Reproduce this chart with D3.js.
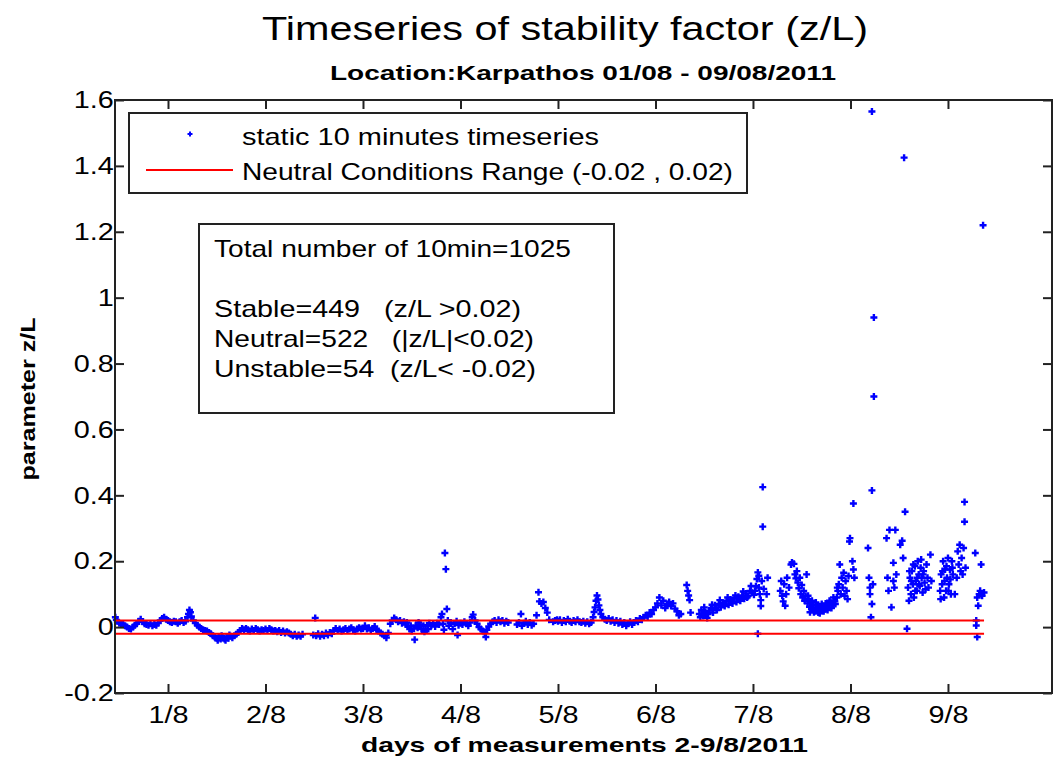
<!DOCTYPE html>
<html>
<head>
<meta charset="utf-8">
<script src="https://cdn.jsdelivr.net/npm/d3@7"></script>
<style>
  body { margin: 0; background: #fff; }
  svg text { font-family: "Liberation Sans", Arial, sans-serif; fill: #000; }
</style>
</head>
<body>
<svg width="1054" height="760"></svg>
<script>
// [day, z/L] readings, day 1 = 1/8
var day0 = [[0.46,0.030],[0.47,0.022],[0.48,0.018],[0.50,0.012],[0.52,0.010],[0.54,0.008],[0.56,0.004],[0.58,0.000],[0.60,-0.004],[0.62,-0.006],[0.64,0.000],[0.66,0.006],[0.68,0.010],[0.70,0.018],[0.72,0.024],[0.74,0.016],[0.76,0.010],[0.78,0.008],[0.80,0.006],[0.82,0.010],[0.84,0.004],[0.86,0.008],[0.88,0.006],[0.90,0.012],[0.92,0.020],[0.94,0.026],[0.96,0.030],[0.98,0.024]];
var day1 = [[1.00,0.020],[1.02,0.016],[1.04,0.014],[1.06,0.018],[1.08,0.016],[1.10,0.012],[1.12,0.016],[1.14,0.020],[1.16,0.014],[1.18,0.018],[1.20,0.030],[1.21,0.040],[1.22,0.052],[1.23,0.045],[1.24,0.032],[1.26,0.020],[1.28,0.012],[1.30,0.006],[1.32,0.000],[1.34,-0.004],[1.36,-0.008],[1.38,-0.010],[1.40,-0.012],[1.42,-0.016],[1.44,-0.020],[1.46,-0.026],[1.48,-0.030],[1.50,-0.034],[1.51,-0.040],[1.52,-0.030],[1.54,-0.036],[1.55,-0.026],[1.56,-0.032],[1.58,-0.036],[1.59,-0.040],[1.60,-0.030],[1.62,-0.034],[1.63,-0.024],[1.64,-0.028],[1.66,-0.032],[1.68,-0.026],[1.70,-0.022],[1.72,-0.016],[1.74,-0.010],[1.76,-0.004],[1.78,-0.008],[1.80,-0.004],[1.82,-0.008],[1.84,-0.012],[1.86,-0.006],[1.88,-0.010],[1.90,-0.004],[1.92,-0.008],[1.94,-0.012],[1.96,-0.008],[1.98,-0.010]];
var day2 = [[2.00,-0.006],[2.02,-0.010],[2.04,-0.004],[2.06,-0.008],[2.08,-0.012],[2.10,-0.010],[2.12,-0.014],[2.14,-0.010],[2.16,-0.016],[2.18,-0.012],[2.20,-0.018],[2.22,-0.014],[2.24,-0.018],[2.26,-0.022],[2.28,-0.026],[2.30,-0.022],[2.32,-0.028],[2.34,-0.024],[2.36,-0.028],[2.38,-0.022],[2.49,-0.024],[2.51,0.028],[2.52,-0.026],[2.54,-0.020],[2.56,-0.028],[2.58,-0.022],[2.60,-0.026],[2.62,-0.018],[2.64,-0.024],[2.66,-0.016],[2.68,-0.020],[2.70,-0.010],[2.72,-0.004],[2.74,-0.010],[2.76,-0.006],[2.78,-0.012],[2.80,-0.008],[2.82,-0.004],[2.84,-0.010],[2.86,-0.006],[2.88,-0.002],[2.90,-0.008],[2.92,-0.012],[2.94,-0.006],[2.96,-0.002],[2.98,-0.006]];
var day3 = [[3.00,-0.004],[3.02,0.004],[3.04,-0.006],[3.06,-0.002],[3.08,-0.010],[3.10,-0.004],[3.12,0.002],[3.14,-0.008],[3.16,-0.012],[3.18,-0.018],[3.20,-0.022],[3.22,-0.026],[3.24,-0.032],[3.26,-0.018],[3.28,0.010],[3.30,0.020],[3.32,0.028],[3.34,0.022],[3.36,0.016],[3.38,0.020],[3.40,0.012],[3.42,0.016],[3.44,0.008],[3.45,0.014],[3.46,0.002],[3.48,-0.006],[3.49,0.004],[3.50,-0.012],[3.52,-0.004],[3.53,-0.038],[3.54,0.004],[3.56,-0.002],[3.57,0.014],[3.58,0.008],[3.60,-0.006],[3.62,0.004],[3.63,-0.014],[3.64,-0.010],[3.66,0.006],[3.67,-0.006],[3.68,0.012],[3.70,0.004],[3.72,0.010],[3.74,0.002],[3.76,0.012],[3.78,0.008],[3.80,0.030],[3.81,0.040],[3.82,0.010],[3.83,-0.008],[3.84,0.225],[3.85,0.176],[3.86,0.055],[3.87,0.020],[3.88,0.004],[3.90,0.014],[3.92,-0.006],[3.94,0.010],[3.96,0.018],[3.97,-0.024],[3.98,0.006]];
var day4 = [[4.00,0.012],[4.02,0.008],[4.04,0.016],[4.06,0.010],[4.08,0.004],[4.10,0.014],[4.12,0.030],[4.13,0.038],[4.15,0.020],[4.17,0.010],[4.19,0.000],[4.21,-0.006],[4.23,-0.012],[4.25,-0.016],[4.26,-0.030],[4.27,-0.008],[4.29,0.002],[4.31,0.010],[4.33,0.016],[4.35,0.020],[4.37,0.014],[4.39,0.022],[4.41,0.016],[4.43,0.020],[4.45,0.012],[4.47,0.018],[4.49,0.014],[4.58,0.008],[4.60,0.014],[4.62,0.040],[4.63,0.004],[4.65,0.012],[4.67,0.018],[4.69,0.008],[4.71,0.014],[4.73,0.006],[4.75,0.010],[4.78,0.036],[4.80,0.106],[4.81,0.078],[4.83,0.072],[4.85,0.076],[4.87,0.058],[4.89,0.044],[4.91,0.022],[4.95,0.016],[4.97,0.020],[4.99,0.022]];
var day5 = [[5.00,0.018],[5.02,0.022],[5.04,0.014],[5.06,0.020],[5.08,0.016],[5.10,0.024],[5.12,0.018],[5.14,0.014],[5.16,0.020],[5.18,0.016],[5.20,0.022],[5.22,0.016],[5.24,0.014],[5.26,0.018],[5.28,0.012],[5.30,0.016],[5.32,0.010],[5.34,0.014],[5.36,0.030],[5.37,0.046],[5.38,0.060],[5.39,0.080],[5.40,0.096],[5.41,0.084],[5.42,0.066],[5.43,0.052],[5.44,0.040],[5.46,0.030],[5.48,0.024],[5.50,0.020],[5.52,0.026],[5.54,0.018],[5.56,0.022],[5.58,0.014],[5.60,0.020],[5.62,0.012],[5.64,0.018],[5.66,0.008],[5.68,0.014],[5.70,0.004],[5.72,0.010],[5.74,0.016],[5.76,0.008],[5.78,0.014],[5.80,0.020],[5.82,0.016],[5.84,0.026],[5.86,0.022],[5.88,0.030],[5.90,0.036],[5.92,0.032],[5.94,0.044],[5.96,0.040],[5.98,0.052]];
var day6 = [[6.00,0.060],[6.02,0.072],[6.04,0.090],[6.06,0.066],[6.08,0.080],[6.10,0.058],[6.12,0.070],[6.14,0.076],[6.16,0.064],[6.18,0.072],[6.20,0.056],[6.22,0.048],[6.24,0.036],[6.26,0.040],[6.32,0.128],[6.33,0.110],[6.34,0.096],[6.35,0.082],[6.36,0.044],[6.45,0.040],[6.46,0.030],[6.47,0.052],[6.49,0.034],[6.50,0.060],[6.51,0.046],[6.53,0.028],[6.54,0.040],[6.55,0.050],[6.57,0.058],[6.58,0.068],[6.59,0.044],[6.61,0.066],[6.62,0.058],[6.63,0.052],[6.65,0.070],[6.66,0.082],[6.67,0.060],[6.69,0.074],[6.70,0.070],[6.71,0.064],[6.73,0.080],[6.74,0.090],[6.75,0.068],[6.77,0.084],[6.78,0.080],[6.79,0.072],[6.81,0.088],[6.82,0.096],[6.83,0.076],[6.85,0.092],[6.86,0.086],[6.87,0.080],[6.89,0.096],[6.90,0.108],[6.91,0.086],[6.93,0.102],[6.94,0.090],[6.95,0.094],[6.97,0.110],[6.98,0.125],[6.99,0.104]];
var day7 = [[7.01,0.098],[7.02,0.110],[7.03,0.124],[7.04,0.146],[7.05,-0.020],[7.05,0.166],[7.06,0.156],[7.06,0.120],[7.07,0.100],[7.08,0.082],[7.08,0.064],[7.09,0.140],[7.10,0.425],[7.10,0.305],[7.11,0.116],[7.14,0.100],[7.15,0.150],[7.28,0.110],[7.29,0.140],[7.30,0.095],[7.31,0.078],[7.32,0.130],[7.33,0.065],[7.34,0.100],[7.35,0.150],[7.37,0.120],[7.39,0.190],[7.40,0.196],[7.42,0.192],[7.43,0.160],[7.44,0.148],[7.45,0.170],[7.46,0.135],[7.47,0.118],[7.48,0.150],[7.49,0.100],[7.50,0.128],[7.51,0.090],[7.52,0.110],[7.53,0.080],[7.54,0.095],[7.55,0.160],[7.56,0.072],[7.565,0.095],[7.57,0.085],[7.58,0.062],[7.585,0.045],[7.59,0.075],[7.60,0.055],[7.605,0.080],[7.62,0.068],[7.625,0.045],[7.64,0.048],[7.645,0.075],[7.65,0.060],[7.665,0.065],[7.67,0.044],[7.68,0.056],[7.685,0.042],[7.70,0.050],[7.705,0.070],[7.72,0.062],[7.725,0.048],[7.74,0.054],[7.745,0.072],[7.76,0.068],[7.765,0.052],[7.78,0.060],[7.785,0.080],[7.80,0.074],[7.805,0.058],[7.82,0.066],[7.825,0.090],[7.84,0.078],[7.845,0.070],[7.86,0.090],[7.865,0.120],[7.87,0.110],[7.88,0.130],[7.89,0.190],[7.90,0.100],[7.91,0.150],[7.92,0.120],[7.93,0.165],[7.94,0.095],[7.95,0.140],[7.96,0.110],[7.97,0.085],[7.98,0.155],[7.99,0.260],[7.995,0.270]];
var day8 = [[8.02,0.200],[8.03,0.375],[8.03,0.175],[8.04,0.150],[8.18,0.240],[8.19,0.150],[8.20,0.120],[8.20,0.100],[8.21,0.030],[8.22,0.415],[8.22,1.565],[8.22,0.070],[8.23,0.130],[8.24,0.940],[8.24,0.700],[8.37,0.270],[8.38,0.150],[8.39,0.110],[8.40,0.295],[8.42,0.060],[8.44,0.195],[8.44,0.140],[8.45,0.120],[8.46,0.295],[8.47,0.160],[8.51,0.250],[8.53,0.262],[8.54,0.210],[8.55,1.425],[8.56,0.350],[8.58,-0.005],[8.59,0.120],[8.60,0.080],[8.605,0.170],[8.61,0.150],[8.62,0.100],[8.625,0.140],[8.63,0.170],[8.64,0.130],[8.645,0.190],[8.65,0.090],[8.66,0.185],[8.665,0.110],[8.67,0.140],[8.68,0.110],[8.685,0.150],[8.69,0.200],[8.70,0.160],[8.705,0.130],[8.71,0.125],[8.72,0.180],[8.725,0.205],[8.73,0.150],[8.74,0.105],[8.745,0.160],[8.75,0.170],[8.76,0.135],[8.77,0.115],[8.78,0.190],[8.79,0.150],[8.80,0.120],[8.82,0.220],[8.83,0.140],[8.92,0.110],[8.925,0.085],[8.93,0.160],[8.94,0.130],[8.945,0.170],[8.95,0.200],[8.96,0.090],[8.965,0.140],[8.97,0.175],[8.98,0.110],[8.985,0.185],[8.99,0.150],[9.00,0.210],[9.005,0.110],[9.01,0.130],[9.02,0.175],[9.025,0.145],[9.03,0.100],[9.04,0.200],[9.045,0.180],[9.05,0.160]];
var day9 = [[9.07,0.100],[9.09,0.150],[9.10,0.230],[9.11,0.190],[9.12,0.250],[9.13,0.170],[9.14,0.210],[9.15,0.160],[9.16,0.240],[9.17,0.380],[9.17,0.320],[9.18,0.180],[9.28,0.225],[9.29,0.020],[9.29,0.005],[9.30,-0.030],[9.30,0.090],[9.31,0.065],[9.32,0.100],[9.33,0.110],[9.34,0.190],[9.35,0.095],[9.36,1.220],[9.37,0.105]];

var xTicks = [1, 2, 3, 4, 5, 6, 7, 8, 9];
var xTickLabels = ["1/8", "2/8", "3/8", "4/8", "5/8", "6/8", "7/8", "8/8", "9/8"];
var yTicks = [-0.2, 0, 0.2, 0.4, 0.6, 0.8, 1, 1.2, 1.4, 1.6];
var neutralLimits = [-0.02, 0.02];
var legendLabels = ["static 10 minutes timeseries", "Neutral Conditions Range (-0.02 , 0.02)"];
var statsLines = ["Total number of 10min=1025", "", "Stable=449   (z/L >0.02)", "Neutral=522   (|z/L|<0.02)", "Unstable=54  (z/L< -0.02)"];

var points = [].concat(day0, day1, day2, day3, day4, day5, day6, day7, day8, day9);

var svg = d3.select("svg"),
    plotL = 115, plotR = 1052, plotT = 100, plotB = 693,
    stretch = 1.2;

var x = d3.scaleLinear().domain([0.4564, 10.067]).range([plotL, plotR]);
var y = d3.scaleLinear().domain([-0.2, 1.6]).range([plotB, plotT]);

// text helper; the reference font runs wide, so glyphs get fitted to a measured length
function label(px, py, str, size, opts) {
  opts = opts || {};
  var t = svg.append("text")
      .attr("x", px).attr("y", py)
      .attr("font-size", size)
      .attr("font-weight", opts.bold ? "bold" : null)
      .attr("text-anchor", opts.anchor || "start")
      .style("white-space", "pre")
      .text(str);
  if (opts.len) t.attr("textLength", opts.len).attr("lengthAdjust", "spacingAndGlyphs");
  if (opts.rotate) t.attr("transform", "rotate(-90," + px + "," + py + ")");
  return t;
}

// points
var plus = "M-3.5,0H3.5M0,-3.5V3.5";
svg.append("g").selectAll("path").data(points).join("path")
    .attr("transform", function(d) { return "translate(" + x(d[0]) + "," + y(d[1]) + ")"; })
    .attr("d", plus)
    .attr("stroke", "#0000ff")
    .attr("stroke-width", 2.4);

// neutral range lines over the points
var span = d3.extent(points, function(d) { return d[0]; });
svg.append("g").selectAll("line").data(neutralLimits).join("line")
    .attr("x1", plotL).attr("x2", x(span[1]))
    .attr("y1", function(d) { return y(d); })
    .attr("y2", function(d) { return y(d); })
    .attr("stroke", "#ff0000")
    .attr("stroke-width", 2);

// axes, ticks pointing inward on all four sides
function styleAxis(g) {
  g.select(".domain").remove();
  g.selectAll(".tick line").attr("stroke", "#222").attr("stroke-width", 2);
  g.attr("font-size", 24).attr("font-family", "'Liberation Sans', Arial, sans-serif");
}

svg.append("g").attr("transform", "translate(0," + plotB + ")")
    .call(d3.axisBottom(x).tickValues(xTicks).tickSize(-9).tickPadding(13)
      .tickFormat(function(d, i) { return xTickLabels[i]; }))
    .call(styleAxis)
    .selectAll("text").attr("transform", "scale(" + stretch + ",1)");

svg.append("g").attr("transform", "translate(" + plotL + ",0)")
    .call(d3.axisLeft(y).tickValues(yTicks).tickSize(-9).tickPadding(1)
      .tickFormat(function(d) { return String(+d.toFixed(1)); }))
    .call(styleAxis)
    .selectAll("text").attr("transform", "scale(" + stretch + ",1)");

svg.append("g").attr("transform", "translate(0," + plotT + ")")
    .call(d3.axisTop(x).tickValues(xTicks).tickSize(-9).tickFormat(""))
    .call(styleAxis);

svg.append("g").attr("transform", "translate(" + plotR + ",0)")
    .call(d3.axisRight(y).tickValues(yTicks).tickSize(-9).tickFormat(""))
    .call(styleAxis);

svg.append("rect")
    .attr("x", plotL).attr("y", plotT)
    .attr("width", plotR - plotL).attr("height", plotB - plotT)
    .attr("fill", "none").attr("stroke", "#222").attr("stroke-width", 2);

// legend
svg.append("rect").attr("x", 129).attr("y", 113).attr("width", 618).attr("height", 80)
    .attr("fill", "#fff").attr("stroke", "#222").attr("stroke-width", 2);
svg.append("path").attr("transform", "translate(190,134)").attr("d", "M-2.5,0H2.5M0,-2.5V2.5")
    .attr("stroke", "#0000ff").attr("stroke-width", 2);
svg.append("line").attr("x1", 146).attr("x2", 233).attr("y1", 170).attr("y2", 170)
    .attr("stroke", "#ff0000").attr("stroke-width", 2);
label(242, 145, legendLabels[0], 24, {len: 357});
label(242, 180, legendLabels[1], 24, {len: 491});

// statistics box
svg.append("rect").attr("x", 199).attr("y", 224).attr("width", 415).attr("height", 189)
    .attr("fill", "#fff").attr("stroke", "#222").attr("stroke-width", 2);
var statsBase = [257, 287, 317, 347, 377];
var statsLen = [357, 0, 307, 320, 322];
statsLines.forEach(function(s, i) {
  if (s) label(214, statsBase[i], s, 24, {len: statsLen[i]});
});

// titles
label(565, 40, "Timeseries of stability factor (z/L)", 34, {anchor: "middle", len: 606});
label(583, 80, "Location:Karpathos 01/08 - 09/08/2011", 20, {anchor: "middle", bold: true, len: 506});
label(584.5, 752, "days of measurements 2-9/8/2011", 21, {anchor: "middle", bold: true, len: 447});
label(35, 399, "parameter z/L", 21, {anchor: "middle", bold: true, len: 163, rotate: true});
</script>
</body>
</html>
